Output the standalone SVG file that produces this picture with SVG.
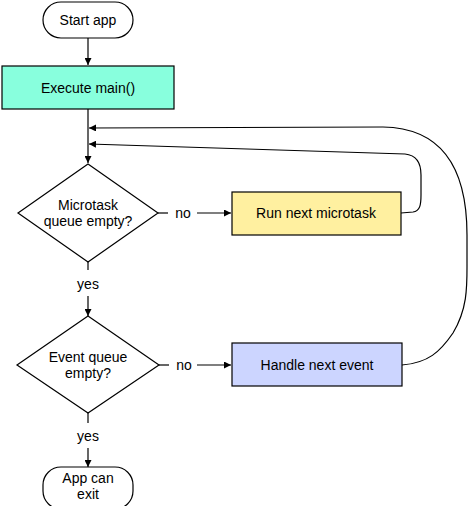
<svg xmlns="http://www.w3.org/2000/svg" width="471" height="506" viewBox="0 0 471 506">
<style>
text{font-family:"Liberation Sans",Arial,sans-serif;font-size:14px;fill:#000;text-anchor:middle;dominant-baseline:central}
.n{stroke:#000;stroke-width:1.2}
.c{fill:none;stroke:#000;stroke-width:1.2}
</style>
<defs>
<marker id="ah" viewBox="0 0 10 10" refX="10" refY="5" markerWidth="7" markerHeight="7" markerUnits="userSpaceOnUse" orient="auto">
<path d="M0,0 L10,5 L0,10 z" fill="#000"/>
</marker>
</defs>
<rect width="471" height="506" fill="#fff"/>
<g id="connectors">
<path class="c" d="M88,38 L88,65" marker-end="url(#ah)"/>
<path class="c" d="M88,109 L88,163" stroke="#555" marker-end="url(#ah)"/>
<path class="c" d="M158,213 L168,213"/>
<text x="183" y="213">no</text>
<path class="c" d="M197,213 L231,213" marker-end="url(#ah)"/>
<path class="c" d="M88,262 L88,270"/>
<text x="88" y="284">yes</text>
<path class="c" d="M88,296 L88,316" marker-end="url(#ah)"/>
<path class="c" d="M159,365 L169,365"/>
<text x="184" y="365">no</text>
<path class="c" d="M197,365 L231,365" marker-end="url(#ah)"/>
<path class="c" d="M88,413 L88,423"/>
<text x="88" y="436">yes</text>
<path class="c" d="M88,448 L88,467" marker-end="url(#ah)"/>
<path class="c" d="M401,213 L413,212 C420,211 421,205 421,195 L421,175 C421,163 416,155 405,154 L89,144" marker-end="url(#ah)"/>
<path class="c" d="M402,365 C428,363 440,352 453,333 C468,308 467,285 467,262 L467,235 C467,165 440,128 383,127 L89,128" marker-end="url(#ah)"/>
</g>
<g id="start">
<rect class="n" x="43" y="2" width="90" height="36" rx="18" ry="18" fill="#fff"/>
<text x="88" y="20">Start app</text>
</g>
<g id="main">
<rect class="n" x="2" y="66" width="172" height="43" fill="#88FFDD"/>
<text x="88" y="88">Execute main()</text>
</g>
<g id="microq">
<path class="n" d="M88,164 L158,213 L88,262 L18,213 Z" fill="#fff"/>
<text x="88" y="205">Microtask</text>
<text x="88" y="221">queue empty?</text>
</g>
<g id="runmicro">
<rect class="n" x="232" y="192" width="169" height="43" fill="#FFF0A0"/>
<text x="316" y="213">Run next microtask</text>
</g>
<g id="eventq">
<path class="n" d="M88,316 L159,365 L88,413 L17,365 Z" fill="#fff"/>
<text x="88" y="357">Event queue</text>
<text x="88" y="373">empty?</text>
</g>
<g id="handle">
<rect class="n" x="232" y="343" width="170" height="43" fill="#CCD5FF"/>
<text x="317" y="365">Handle next event</text>
</g>
<g id="exit">
<rect class="n" x="43" y="467" width="90" height="42" rx="18" ry="18" fill="#fff"/>
<text x="88" y="478">App can</text>
<text x="88" y="494">exit</text>
</g>
</svg>
